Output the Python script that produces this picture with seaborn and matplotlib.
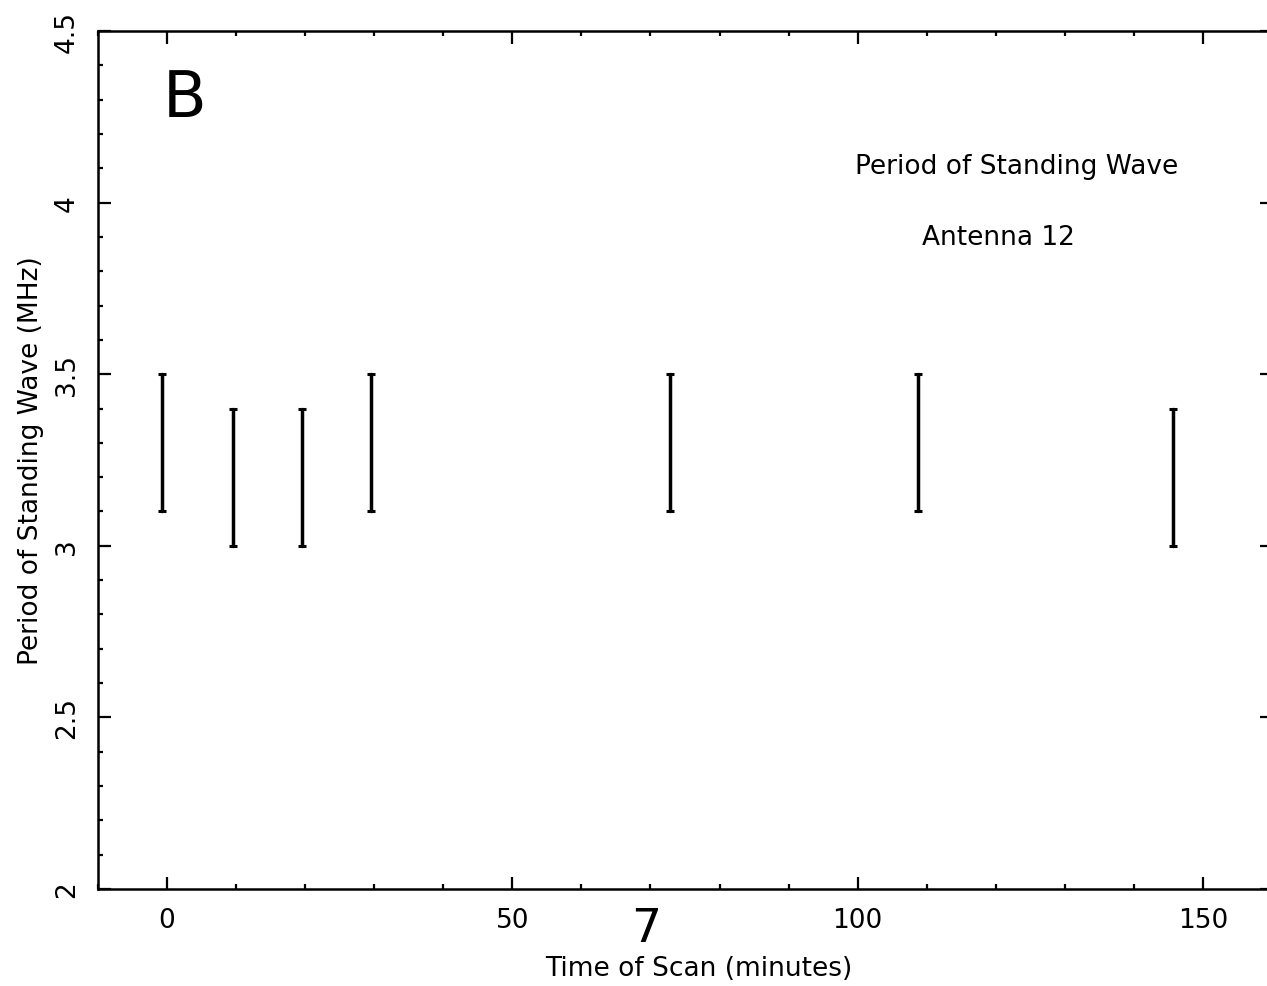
import numpy as np
import pandas as pd
import matplotlib
matplotlib.use("Agg")
import matplotlib.pyplot as plt
import seaborn as sns
from matplotlib.ticker import MultipleLocator

# ---- data ----
scan_time = [-0.8, 9.5, 19.5, 29.6, 72.9, 108.8, 145.6]
period_low = [3.1, 3.0, 3.0, 3.1, 3.1, 3.1, 3.0]
period_high = [3.5, 3.4, 3.4, 3.5, 3.5, 3.5, 3.4]

x_ticks = [0, 50, 100, 150]
y_ticks = [2, 2.5, 3, 3.5, 4, 4.5]
y_tick_labels = ["2", "2.5", "3", "3.5", "4", "4.5"]

title_line1 = "Period of Standing Wave"
title_line2 = "Antenna 12"
x_label = "Time of Scan (minutes)"
y_label = "Period of Standing Wave (MHz)"

df = pd.DataFrame({
    "t": scan_time * 2,
    "v": period_low + period_high,
})

sns.set_theme(style="ticks")
plt.rcParams["font.family"] = ["DejaVu Sans"]
plt.rcParams["text.color"] = "black"
plt.rcParams["axes.labelcolor"] = "black"

W, H = 1267, 987
fig = plt.figure(figsize=(W / 100, H / 100), dpi=100)
left_px, right_px, bottom_px, top_px = 98, 1272, 890, 32
ax = fig.add_axes([left_px / W, 1 - bottom_px / H,
                   (right_px - left_px) / W, (bottom_px - top_px) / H])

sns.lineplot(data=df, x="t", y="v", estimator="mean", errorbar=("pi", 100),
             err_style="bars", color="black", linewidth=0, ax=ax,
             err_kws={"capsize": 3.2, "elinewidth": 2.5, "capthick": 2.2})

ax.set_xlim(-10, 160)
ax.set_ylim(2, 4.5)
ax.set_xticks(x_ticks)
ax.set_yticks(y_ticks)
ax.set_yticklabels(y_tick_labels)
ax.xaxis.set_minor_locator(MultipleLocator(10))
ax.yaxis.set_minor_locator(MultipleLocator(0.1))

ax.tick_params(which="both", direction="in", top=True, right=True,
               colors="black", labelsize=19, pad=13)
ax.tick_params(which="major", length=9, width=1.6)
ax.tick_params(which="minor", length=3.8, width=1.6)
ax.tick_params(axis="y", labelrotation=90)
for lab in ax.get_yticklabels():
    lab.set_va("center")

for sp in ax.spines.values():
    sp.set_visible(True)
    sp.set_linewidth(1.8)
    sp.set_color("black")

ax.set_xlabel(x_label, fontsize=19)
ax.xaxis.set_label_coords((699 - left_px) / (right_px - left_px),
                          -(982 - bottom_px) / (bottom_px - top_px))
ax.xaxis.label.set_va("bottom")
ax.set_ylabel(y_label, fontsize=19, labelpad=7)

ax.text(123, 4.107, title_line1, fontsize=19, ha="center", va="center")
ax.text(120.4, 3.90, title_line2, fontsize=19, ha="center", va="center")

# handwritten marks
ax.text(2.5, 4.305, "B", fontsize=46, ha="center", va="center")
fig.text(646 / W, 1 - 930 / H, "7", fontsize=34, ha="center", va="center")

fig.savefig("out.png", dpi=100)
